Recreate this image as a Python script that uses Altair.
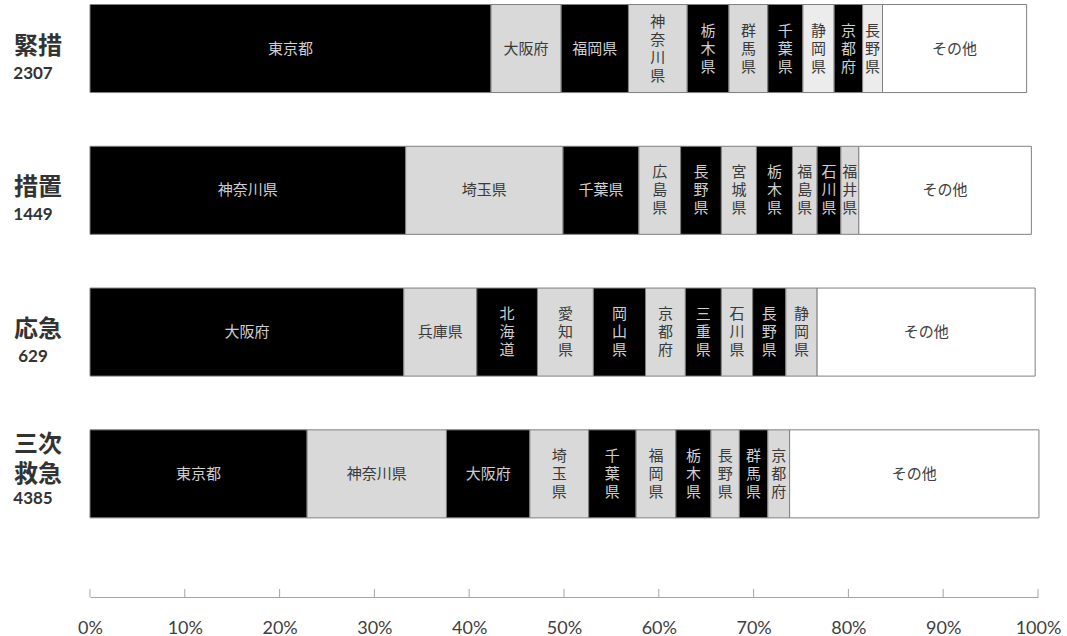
import altair as alt
import pandas as pd

# Rows of the chart (top to bottom), their side captions and case counts
GROUPS = ["緊措", "措置", "応急", "三次救急"]
GROUP_CAPTIONS = ["緊措", "措置", "応急", "三次\n救急"]
GROUP_COUNTS = [2307, 1449, 629, 4385]

# Share of cases by prefecture (% of the row total)
kinso_names = ["東京都", "大阪府", "福岡県", "神奈川県", "栃木県", "群馬県",
               "千葉県", "静岡県", "京都府", "長野県", "その他"]
kinso_share = [42.3, 7.4, 7.1, 6.2, 4.4, 4.1, 3.7, 3.3, 3.0, 2.1, 15.2]

sochi_names = ["神奈川県", "埼玉県", "千葉県", "広島県", "長野県", "宮城県",
               "栃木県", "福島県", "石川県", "福井県", "その他"]
sochi_share = [33.3, 16.6, 8.0, 4.4, 4.3, 3.7, 3.8, 2.6, 2.5, 1.9, 18.2]

okyu_names = ["大阪府", "兵庫県", "北海道", "愛知県", "岡山県", "京都府",
              "三重県", "石川県", "長野県", "静岡県", "その他"]
okyu_share = [33.1, 7.7, 6.4, 5.9, 5.5, 4.2, 3.8, 3.3, 3.5, 3.3, 23.0]

sanji_names = ["東京都", "神奈川県", "大阪府", "埼玉県", "千葉県", "福岡県",
               "栃木県", "長野県", "群馬県", "京都府", "その他"]
sanji_share = [22.9, 14.7, 8.8, 6.2, 5.0, 4.2, 3.7, 3.0, 3.0, 2.3, 26.3]

TICKS = [0, 10, 20, 30, 40, 50, 60, 70, 80, 90, 100]

# Segments drawn in a paler tone
PALE = {("緊措", "静岡県"), ("緊措", "長野県")}

LINE_H = 18  # line spacing of stacked segment names

rows = []
for g, names, shares in zip(
    GROUPS,
    [kinso_names, sochi_names, okyu_names, sanji_names],
    [kinso_share, sochi_share, okyu_share, sanji_share],
):
    start = 0.0
    for i, (n, s) in enumerate(zip(names, shares)):
        end = start + s
        other = n == "その他"
        if other:
            fill, tcol = "#ffffff", "#404040"
        elif i % 2 == 0:
            fill, tcol = "#000000", "#cfcfcf"
        else:
            fill = "#ececec" if (g, n) in PALE else "#d9d9d9"
            tcol = "#3a3a3a"
        # narrow segments get their name stacked vertically
        label = n if (other or s >= 7) else "\n".join(n)
        rows.append(dict(group=g, name=n, share=s, start=start, end=end,
                         mid=(start + end) / 2, fill=fill, tcol=tcol, label=label,
                         nlines=label.count("\n") + 1))
        start = end

df = pd.DataFrame(rows)
cap_df = pd.DataFrame({"group": GROUPS, "caption": GROUP_CAPTIONS,
                       "count": [str(c) for c in GROUP_COUNTS]})
cap_df["nlines"] = cap_df["caption"].str.count("\n") + 1
tick_df = pd.DataFrame({"t": TICKS})

x_scale = alt.Scale(domain=[0, 100], nice=False, zero=False)
y_scale = alt.Scale(domain=GROUPS, paddingInner=0.379, paddingOuter=0.295, align=0.054)
y_enc = alt.Y("group:N", scale=y_scale, axis=None)

bars = alt.Chart(df).mark_bar(stroke="#808080", strokeWidth=1).encode(
    x=alt.X("start:Q", scale=x_scale, title=None,
            axis=alt.Axis(values=TICKS, labelExpr="datum.value + '%'", ticks=False,
                          grid=False, domainColor="#a6a6a6", domainWidth=1,
                          labelFont="Lato", labelFontSize=18, labelColor="#404040",
                          labelPadding=22, labelFlush=False)),
    x2="end:Q",
    y=y_enc,
    fill=alt.Fill("fill:N", scale=None),
)

# segment names, one layer per line count so each block is centred in its bar
seg_layers = []
for k in sorted(df["nlines"].unique()):
    seg_layers.append(
        alt.Chart(df).transform_filter(f"datum.nlines == {k}").mark_text(
            font="Noto Sans CJK JP", fontSize=15, lineBreak="\n", lineHeight=LINE_H,
            baseline="middle", align="center", dy=-(int(k) - 1) * LINE_H / 2,
        ).encode(
            x=alt.X("mid:Q", scale=x_scale),
            y=y_enc,
            text="label:N",
            color=alt.Color("tcol:N", scale=None),
        )
    )

ticks = alt.Chart(tick_df).mark_rule(color="#a6a6a6", strokeWidth=1).encode(
    x=alt.X("t:Q", scale=x_scale),
    y=alt.value(589),
    y2=alt.value(597),
)

cap_layers = []
for k, dy in [(1, 10), (2, -17)]:
    cap_layers.append(
        alt.Chart(cap_df).transform_filter(f"datum.nlines == {k}").mark_text(
            font="Noto Sans CJK JP", fontWeight="bold", fontSize=24, lineBreak="\n",
            lineHeight=30, baseline="bottom", align="center", dy=dy, color="#333333",
        ).encode(x=alt.value(-52), y=y_enc, text="caption:N")
    )

counts = alt.Chart(cap_df).mark_text(
    font="Lato", fontWeight="bold", fontSize=17, baseline="top", align="center",
    dy=17, color="#333333",
).encode(x=alt.value(-57), y=y_enc, text="count:N")

chart = alt.layer(bars, *seg_layers, ticks, *cap_layers, counts).properties(
    width=948,
    height=597,
    autosize=alt.AutoSizeParams(type="none"),
    padding={"left": 90, "top": 0, "right": 29, "bottom": 39},
    background="#ffffff",
).configure_view(stroke=None)

chart.save("out.html", embed_options={"renderer": "svg", "actions": False})
